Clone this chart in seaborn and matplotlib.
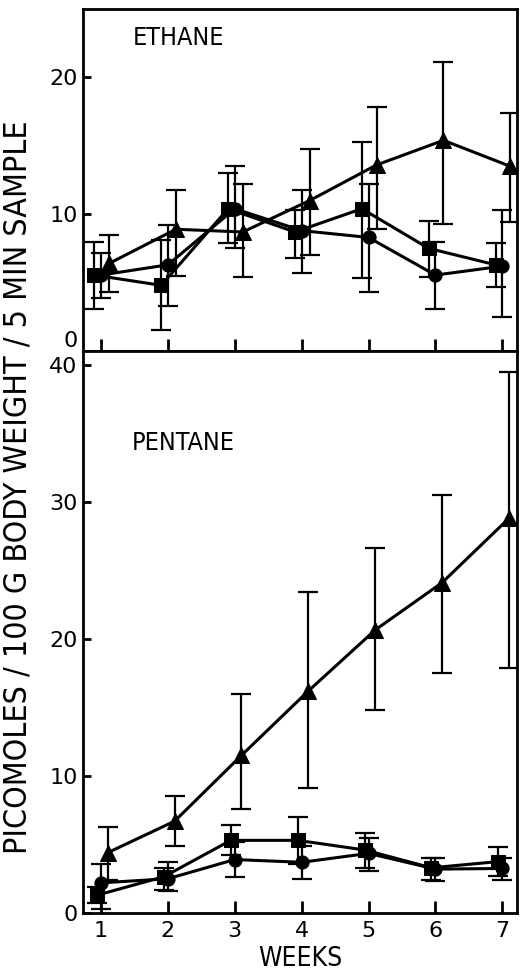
import matplotlib
matplotlib.use("Agg")
import matplotlib.pyplot as plt
from matplotlib import font_manager
import seaborn as sns
import pandas as pd
import numpy as np

weeks = [1, 2, 3, 4, 5, 6, 7]
groups = ["tri", "sq", "ci"]

# ETHANE
eth_tri = [6.4, 8.9, 8.7, 11.0, 13.6, 15.4, 13.5]
eth_tri_lo = [4.3, 5.5, 5.4, 7.0, 8.9, 9.3, 9.4]
eth_tri_hi = [8.5, 11.75, 12.2, 14.8, 17.8, 21.1, 17.4]
eth_sq = [5.55, 4.8, 10.4, 8.7, 10.4, 7.5, 6.3]
eth_sq_lo = [3.1, 1.5, 7.9, 6.8, 5.35, 5.4, 4.7]
eth_sq_hi = [8.0, 8.1, 13.0, 10.3, 15.3, 9.5, 7.9]
eth_ci = [5.55, 6.3, 10.4, 8.8, 8.3, 5.55, 6.2]
eth_ci_lo = [3.9, 3.3, 7.5, 5.7, 4.3, 3.05, 2.5]
eth_ci_hi = [7.2, 9.2, 13.5, 11.75, 12.2, 8.0, 10.3]

# PENTANE
pen_tri = [4.4, 6.7, 11.5, 16.2, 20.65, 24.1, 28.8]
pen_tri_lo = [2.4, 4.9, 7.6, 9.1, 14.8, 17.5, 17.9]
pen_tri_hi = [6.3, 8.5, 16.0, 23.4, 26.6, 30.5, 39.5]
pen_sq = [1.3, 2.65, 5.3, 5.3, 4.6, 3.3, 3.75]
pen_sq_lo = [0.7, 1.7, 4.2, 3.6, 3.3, 2.4, 2.7]
pen_sq_hi = [1.9, 3.3, 6.4, 7.0, 5.8, 4.0, 4.8]
pen_ci = [2.2, 2.5, 3.9, 3.7, 4.35, 3.2, 3.25]
pen_ci_lo = [0.3, 1.6, 2.6, 2.5, 3.1, 2.3, 2.4]
pen_ci_hi = [3.6, 3.7, 5.2, 4.9, 5.5, 4.0, 4.0]

sns.set_style("ticks")
plt.rcParams['font.family'] = ['DejaVu Sans']
plt.rcParams['text.color'] = 'black'
plt.rcParams['axes.labelcolor'] = 'black'
plt.rcParams['xtick.labelcolor'] = 'black'
plt.rcParams['ytick.labelcolor'] = 'black'

# pick a condensed face if one is installed
fonts = font_manager.fontManager.ttflist
names = {f.name for f in fonts}
if 'Liberation Sans Narrow' in names:
    lab_font = dict(family='Liberation Sans Narrow', stretch='normal')
    scale = 1.0
elif any(f.name == 'DejaVu Sans' and f.stretch == 'condensed' for f in fonts):
    lab_font = dict(family='DejaVu Sans', stretch='condensed')
    scale = 1.0
else:
    lab_font = dict(family='DejaVu Sans', stretch='normal')
    scale = 0.85

fig = plt.figure(figsize=(5.21, 9.76), dpi=100)
L, R = 83 / 521, 517 / 521
ax_top = fig.add_axes([L, 1 - 351 / 976, R - L, (351 - 9) / 976])
ax_bot = fig.add_axes([L, 1 - 913 / 976, R - L, (913 - 351) / 976])

markers = {"tri": "^", "sq": "s", "ci": "o"}
msize = {"tri": 11, "sq": 9.5, "ci": 9.5}


def draw(ax, series, offsets):
    rows = []
    for g in groups:
        vals, lo, hi = series[g]
        for w, v, l, h in zip(weeks, vals, lo, hi):
            rows.append({"group": g, "x": w + offsets[g], "value": v, "lo": l, "hi": h})
    df = pd.DataFrame(rows)
    for g in groups:
        d = df[df.group == g]
        ax.errorbar(d["x"], d["value"],
                    yerr=[d["value"] - d["lo"], d["hi"] - d["value"]],
                    fmt="none", ecolor="black", elinewidth=1.6, capsize=7, capthick=1.6, zorder=2)
        sns.lineplot(data=d, x="x", y="value", ax=ax, color="black", linewidth=2.2,
                     marker=markers[g], markersize=msize[g], markeredgecolor="black",
                     markerfacecolor="black", legend=False, zorder=3, estimator=None, sort=False)


draw(ax_top, {"tri": (eth_tri, eth_tri_lo, eth_tri_hi),
              "sq": (eth_sq, eth_sq_lo, eth_sq_hi),
              "ci": (eth_ci, eth_ci_lo, eth_ci_hi)},
     {"tri": 0.12, "sq": -0.1, "ci": 0.0})
draw(ax_bot, {"tri": (pen_tri, pen_tri_lo, pen_tri_hi),
              "sq": (pen_sq, pen_sq_lo, pen_sq_hi),
              "ci": (pen_ci, pen_ci_lo, pen_ci_hi)},
     {"tri": 0.1, "sq": -0.06, "ci": 0.0})

for ax in (ax_top, ax_bot):
    ax.set_xlim(0.73, 7.22)
    ax.set_xticks(weeks)
    ax.set_xlabel("")
    ax.set_ylabel("")
    for s in ax.spines.values():
        s.set_linewidth(2)
        s.set_color("black")
        s.set_visible(True)
    ax.tick_params(direction="in", width=2, color="black", labelsize=16, pad=4)
    ax.tick_params(axis="x", length=9, pad=6)
    ax.tick_params(axis="y", length=6)

ax_top.set_ylim(0, 25)
ax_top.set_yticks([0, 10, 20])
ax_top.set_xticklabels([])
ax_bot.set_ylim(0, 41)
ax_bot.set_yticks([0, 10, 20, 30, 40])
ax_bot.set_xticklabels([str(w) for w in weeks])
ax_top.get_yticklabels()[0].set_verticalalignment("bottom")

ax_top.text(0.115, 0.895, "ETHANE", transform=ax_top.transAxes, fontsize=18 * scale,
            ha="left", va="baseline", **lab_font)
ax_bot.text(0.113, 0.824, "PENTANE", transform=ax_bot.transAxes, fontsize=18 * scale,
            ha="left", va="baseline", **lab_font)
ax_bot.set_xlabel("WEEKS", fontsize=19 * scale, labelpad=3, **lab_font)
fig.text(18 / 521, 1 - 487 / 976, "PICOMOLES / 100 G BODY WEIGHT / 5 MIN SAMPLE",
         rotation=90, ha="center", va="center", fontsize=23 * scale, **lab_font)

fig.savefig("out.png", dpi=100, facecolor="white")
